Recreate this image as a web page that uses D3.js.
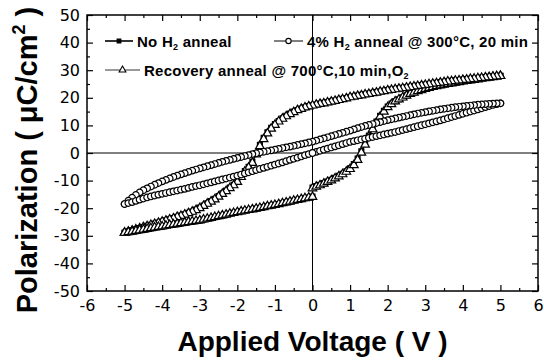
<!DOCTYPE html>
<html lang="en">
<head>
  <meta charset="UTF-8">
  <title>Polarization vs Applied Voltage</title>
  <script src="https://d3js.org/d3.v7.min.js"></script>
  <style>
    body { margin: 0; padding: 0; background: #fff; }
    svg { display: block; font-family: "Liberation Sans", Arial, sans-serif; }
  </style>
</head>
<body>
  <div id="chart"></div>
  <script>
    // voltage sweep: 0 -> +5, +5 -> -5, -5 -> 0 (0.1 V steps)
    const vRise = [0,0.1,0.2,0.3,0.4,0.5,0.6,0.7,0.8,0.9,1,1.1,1.2,1.3,1.4,1.5,1.6,1.7,1.8,1.9,2,2.1,2.2,2.3,2.4,2.5,
                   2.6,2.7,2.8,2.9,3,3.1,3.2,3.3,3.4,3.5,3.6,3.7,3.8,3.9,4,4.1,4.2,4.3,4.4,4.5,4.6,4.7,4.8,4.9,5];
    const vFall = [5,4.9,4.8,4.7,4.6,4.5,4.4,4.3,4.2,4.1,4,3.9,3.8,3.7,3.6,3.5,3.4,3.3,3.2,3.1,3,2.9,2.8,2.7,2.6,2.5,
                   2.4,2.3,2.2,2.1,2,1.9,1.8,1.7,1.6,1.5,1.4,1.3,1.2,1.1,1,0.9,0.8,0.7,0.6,0.5,0.4,0.3,0.2,0.1,0,
                   -0.1,-0.2,-0.3,-0.4,-0.5,-0.6,-0.7,-0.8,-0.9,-1,-1.1,-1.2,-1.3,-1.4,-1.5,-1.6,-1.7,-1.8,-1.9,-2,
                   -2.1,-2.2,-2.3,-2.4,-2.5,-2.6,-2.7,-2.8,-2.9,-3,-3.1,-3.2,-3.3,-3.4,-3.5,-3.6,-3.7,-3.8,-3.9,-4,
                   -4.1,-4.2,-4.3,-4.4,-4.5,-4.6,-4.7,-4.8,-4.9,-5];
    const vBack = [-5,-4.9,-4.8,-4.7,-4.6,-4.5,-4.4,-4.3,-4.2,-4.1,-4,-3.9,-3.8,-3.7,-3.6,-3.5,-3.4,-3.3,-3.2,-3.1,-3,
                   -2.9,-2.8,-2.7,-2.6,-2.5,-2.4,-2.3,-2.2,-2.1,-2,-1.9,-1.8,-1.7,-1.6,-1.5,-1.4,-1.3,-1.2,-1.1,-1,
                   -0.9,-0.8,-0.7,-0.6,-0.5,-0.4,-0.3,-0.2,-0.1,0];

    // No H2 anneal
    const noH2Rise = [-12.5,-12.0,-11.5,-10.9,-10.3,-9.7,-9.0,-8.3,-7.5,-6.6,-5.5,-4.0,-2.0,0.6,3.5,6.3,9.0,11.4,13.5,15.3,
                      16.8,17.9,18.8,19.5,20.2,20.9,21.5,22.0,22.5,22.9,23.3,23.7,24.0,24.3,24.6,24.8,25.0,25.3,25.5,25.8,
                      26.0,26.2,26.4,26.6,26.8,27.0,27.2,27.4,27.6,27.8,28.0];
    const noH2Fall = [28.0,27.9,27.8,27.65,27.5,27.35,27.2,27.05,26.9,26.75,26.6,26.45,26.3,26.15,26.0,25.8,25.6,25.4,25.2,25.0,
                      24.8,24.6,24.4,24.2,24.0,23.8,23.6,23.4,23.2,23.0,22.8,22.55,22.3,22.05,21.8,21.55,21.3,21.05,20.8,20.55,
                      20.3,19.95,19.6,19.3,19.0,18.7,18.4,18.15,17.9,17.6,17.3,17.0,16.6,16.1,15.6,15.0,14.3,13.5,12.6,11.6,
                      10.5,9.1,7.5,5.5,3.0,0.0,-3.2,-5.0,-6.5,-8.5,-10.3,-11.5,-12.5,-13.6,-14.6,-15.6,-16.6,-17.4,-18.2,-19.0,
                      -19.8,-20.5,-21.2,-21.7,-22.2,-22.65,-23.1,-23.55,-24.0,-24.4,-24.8,-25.2,-25.6,-26.0,-26.4,-26.8,-27.2,-27.6,-28.0,-28.4,
                      -28.8];
    const noH2Back = [-29.0,-28.8,-28.6,-28.35,-28.1,-27.85,-27.6,-27.35,-27.1,-26.9,-26.7,-26.45,-26.2,-26.0,-25.8,-25.55,-25.3,-25.1,-24.9,-24.7,
                      -24.5,-24.2,-23.9,-23.6,-23.3,-23.0,-22.7,-22.35,-22.0,-21.7,-21.4,-21.15,-20.9,-20.65,-20.4,-20.15,-19.9,-19.6,-19.3,-19.05,
                      -18.8,-18.5,-18.2,-17.9,-17.6,-17.3,-17.0,-16.7,-16.4,-16.1,-15.8];

    // 4% H2 anneal @ 300C, 20 min
    const h2Rise = [0.0,0.4,0.8,1.2,1.6,2.0,2.4,2.8,3.2,3.6,4.0,4.3,4.6,4.9,5.2,5.5,5.8,6.1,6.4,6.7,
                    7.0,7.3,7.6,7.95,8.3,8.65,9.0,9.35,9.7,10.05,10.4,10.75,11.1,11.45,11.8,12.2,12.6,13.0,13.4,13.8,
                    14.2,14.6,15.0,15.4,15.8,16.2,16.6,17.0,17.4,17.7,18.0];
    const h2Fall = [18.0,17.95,17.9,17.8,17.7,17.6,17.5,17.35,17.2,17.05,16.9,16.75,16.6,16.4,16.2,16.0,15.8,15.55,15.3,15.05,
                    14.8,14.55,14.3,14.0,13.7,13.4,13.1,12.8,12.5,12.2,11.9,11.55,11.2,10.85,10.5,10.15,9.8,9.4,9.0,8.55,
                    8.1,7.7,7.3,6.9,6.5,6.1,5.7,5.3,4.9,4.5,4.1,3.8,3.5,3.2,2.9,2.6,2.3,2.05,1.8,1.5,
                    1.2,0.95,0.7,0.45,0.2,-0.1,-0.4,-0.75,-1.1,-1.45,-1.8,-2.15,-2.5,-2.85,-3.2,-3.6,-4.0,-4.4,-4.8,-5.2,
                    -5.6,-6.0,-6.4,-6.85,-7.3,-7.75,-8.2,-8.7,-9.2,-9.75,-10.3,-10.9,-11.5,-12.15,-12.8,-13.5,-14.3,-15.2,-16.2,-17.3,
                    -18.5];
    const h2Back = [-18.5,-18.15,-17.8,-17.35,-16.9,-16.5,-16.1,-15.75,-15.4,-15.1,-14.8,-14.5,-14.2,-13.9,-13.6,-13.3,-13.0,-12.65,-12.3,-12.0,
                    -11.7,-11.35,-11.0,-10.65,-10.3,-9.95,-9.6,-9.25,-8.9,-8.55,-8.2,-7.8,-7.4,-7.0,-6.6,-6.2,-5.8,-5.4,-5.0,-4.6,
                    -4.2,-3.8,-3.4,-2.95,-2.5,-2.1,-1.7,-1.25,-0.8,-0.4,0.0];

    // Recovery anneal @ 700C, 10 min, O2
    const recRise = [-12.8,-12.2,-11.7,-11.1,-10.5,-9.9,-9.2,-8.5,-7.7,-6.8,-5.8,-4.4,-2.5,0.1,3.0,5.8,8.6,11.0,13.2,15.0,
                     16.6,17.7,18.7,19.4,20.1,20.8,21.4,21.9,22.4,22.8,23.2,23.6,23.9,24.2,24.5,24.8,25.0,25.2,25.5,25.7,
                     25.9,26.1,26.3,26.5,26.7,26.9,27.1,27.3,27.5,27.7,27.9];
    const recFall = [27.9,27.8,27.7,27.5,27.4,27.2,27.1,26.9,26.8,26.6,26.5,26.3,26.2,26.0,25.9,25.7,25.5,25.3,25.1,24.9,
                     24.7,24.5,24.3,24.1,23.9,23.7,23.5,23.3,23.1,22.9,22.7,22.4,22.2,21.9,21.7,21.4,21.2,20.9,20.7,20.4,
                     20.2,19.8,19.5,19.2,18.9,18.6,18.3,18.0,17.8,17.5,17.2,16.9,16.5,16.0,15.5,14.8,14.1,13.3,12.4,11.4,
                     10.2,8.8,7.1,5.0,2.5,-0.5,-3.6,-5.3,-6.8,-8.7,-10.5,-11.7,-12.7,-13.8,-14.8,-15.8,-16.8,-17.6,-18.4,-19.2,
                     -20.0,-20.7,-21.3,-21.8,-22.3,-22.8,-23.2,-23.7,-24.1,-24.5,-24.9,-25.3,-25.7,-26.1,-26.5,-26.9,-27.3,-27.7,-28.1,-28.5,
                     -28.9];
    const recBack = [-28.9,-28.7,-28.5,-28.25,-28.0,-27.75,-27.5,-27.25,-27.0,-26.8,-26.6,-26.35,-26.1,-25.9,-25.7,-25.45,-25.2,-25.0,-24.8,-24.6,
                     -24.4,-24.1,-23.8,-23.5,-23.2,-22.9,-22.6,-22.3,-22.0,-21.7,-21.4,-21.15,-20.9,-20.65,-20.4,-20.15,-19.9,-19.6,-19.3,-19.05,
                     -18.8,-18.5,-18.2,-17.9,-17.6,-17.3,-17.0,-16.7,-16.4,-16.15,-15.9];

    const xTicks = [-6,-5,-4,-3,-2,-1,0,1,2,3,4,5,6];
    const yTicks = [-50,-40,-30,-20,-10,0,10,20,30,40,50];
    const xMinor = [-5.5,-4.5,-3.5,-2.5,-1.5,-0.5,0.5,1.5,2.5,3.5,4.5,5.5];
    const yMinor = [-45,-35,-25,-15,-5,5,15,25,35,45];

    function loop(rise, fall, back) {
      return vRise.map((v, i) => [v, rise[i]])
        .concat(vFall.map((v, i) => [v, fall[i]]))
        .concat(vBack.map((v, i) => [v, back[i]]));
    }

    const series = [
      { data: loop(noH2Rise, noH2Fall, noH2Back), symbol: d3.symbolSquare,   size: 24, fill: "#000" },
      { data: loop(recRise, recFall, recBack),    symbol: d3.symbolTriangle, size: 32, fill: "#fff" },
      { data: loop(h2Rise, h2Fall, h2Back),       symbol: d3.symbolCircle,   size: 34, fill: "#fff" }
    ];

    const W = 544, H = 360;
    const margin = { top: 15, right: 6, bottom: 69, left: 87 };

    const svg = d3.select("#chart").append("svg")
      .attr("width", W).attr("height", H);

    const x = d3.scaleLinear().domain([-6, 6]).range([margin.left, W - margin.right]);
    const y = d3.scaleLinear().domain([-50, 50]).range([H - margin.bottom, margin.top]);

    // zero lines
    svg.append("line")
      .attr("x1", x(-6)).attr("x2", x(6)).attr("y1", y(0)).attr("y2", y(0))
      .attr("stroke", "#000").attr("stroke-width", 1);
    svg.append("line")
      .attr("x1", x(0)).attr("x2", x(0)).attr("y1", y(50)).attr("y2", y(-50))
      .attr("stroke", "#000").attr("stroke-width", 1);

    function styleAxis(g) {
      g.select(".domain").remove();
      g.selectAll("line").attr("stroke", "#000").attr("stroke-width", 1.2);
      g.selectAll("text").attr("font-size", 16).attr("fill", "#000")
        .attr("font-family", "'DejaVu Sans', sans-serif");
    }
    const fmt = d => String(d);

    // ticks point inward on all four sides
    svg.append("g").attr("transform", `translate(0,${y(-50)})`)
      .call(d3.axisBottom(x).tickValues(xTicks).tickSizeInner(-6).tickSizeOuter(0).tickPadding(9).tickFormat(fmt))
      .call(styleAxis);
    svg.append("g").attr("transform", `translate(0,${y(-50)})`)
      .call(d3.axisBottom(x).tickValues(xMinor).tickSize(-3).tickFormat(""))
      .call(styleAxis);
    svg.append("g").attr("transform", `translate(0,${y(50)})`)
      .call(d3.axisTop(x).tickValues(xTicks).tickSize(-6).tickFormat(""))
      .call(styleAxis);
    svg.append("g").attr("transform", `translate(0,${y(50)})`)
      .call(d3.axisTop(x).tickValues(xMinor).tickSize(-3).tickFormat(""))
      .call(styleAxis);

    svg.append("g").attr("transform", `translate(${x(-6)},0)`)
      .call(d3.axisLeft(y).tickValues(yTicks).tickSizeInner(-6).tickSizeOuter(0).tickPadding(7).tickFormat(fmt))
      .call(styleAxis);
    svg.append("g").attr("transform", `translate(${x(-6)},0)`)
      .call(d3.axisLeft(y).tickValues(yMinor).tickSize(-3).tickFormat(""))
      .call(styleAxis);
    svg.append("g").attr("transform", `translate(${x(6)},0)`)
      .call(d3.axisRight(y).tickValues(yTicks).tickSize(-6).tickFormat(""))
      .call(styleAxis);
    svg.append("g").attr("transform", `translate(${x(6)},0)`)
      .call(d3.axisRight(y).tickValues(yMinor).tickSize(-3).tickFormat(""))
      .call(styleAxis);

    // frame
    svg.append("rect")
      .attr("x", x(-6)).attr("y", y(50))
      .attr("width", x(6) - x(-6)).attr("height", y(-50) - y(50))
      .attr("fill", "none").attr("stroke", "#000").attr("stroke-width", 1.5);

    // loops
    const line = d3.line().x(d => x(d[0])).y(d => y(d[1]));
    series.forEach(s => {
      svg.append("path").datum(s.data)
        .attr("d", line).attr("fill", "none").attr("stroke", "#000").attr("stroke-width", 1);
      svg.append("g").selectAll("path")
        .data(s.data)
        .join("path")
        .attr("transform", d => `translate(${x(d[0])},${y(d[1])})`)
        .attr("d", d3.symbol().type(s.symbol).size(s.size))
        .attr("fill", s.fill)
        .attr("stroke", "#000")
        .attr("stroke-width", 1.2);
    });

    // legend
    const legend = [
      { s: series[0], lx: 105, ly: 41, tx: 137, text: "No H", sub: "2", rest: " anneal", lw: 1.6, ms: 14 },
      { s: series[2], lx: 274, ly: 41, tx: 307, text: "4% H", sub: "2", rest: " anneal @ 300°C, 20 min", lw: 1, ms: 22 },
      { s: series[1], lx: 105, ly: 70, tx: 144, text: "Recovery anneal @ 700°C,10 min,O", sub: "2", rest: "", lw: 0.8, ms: 20 }
    ];
    legend.forEach(l => {
      const g = svg.append("g");
      g.append("line").attr("x1", l.lx).attr("x2", l.tx - 4).attr("y1", l.ly).attr("y2", l.ly)
        .attr("stroke", "#000").attr("stroke-width", l.lw);
      g.append("path").attr("transform", `translate(${(l.lx + l.tx - 4) / 2},${l.ly})`)
        .attr("d", d3.symbol().type(l.s.symbol).size(l.ms))
        .attr("fill", l.s.fill).attr("stroke", "#000").attr("stroke-width", 1.1);
      const t = g.append("text").attr("x", l.tx).attr("y", l.ly + 5.5)
        .attr("font-size", 15).attr("font-weight", "bold").attr("letter-spacing", 0.25);
      t.append("tspan").text(l.text);
      t.append("tspan").attr("font-size", 9).attr("dy", 3).text(l.sub);
      t.append("tspan").attr("dy", -3).text(l.rest);
    });

    // axis titles
    svg.append("text")
      .attr("x", x(0)).attr("y", 351)
      .attr("text-anchor", "middle").attr("font-size", 28).attr("font-weight", "bold")
      .text("Applied Voltage ( V )");

    const yt = svg.append("text")
      .attr("transform", "translate(37,160) rotate(-90)")
      .attr("text-anchor", "middle").attr("font-size", 29).attr("font-weight", "bold");
    yt.append("tspan").text("Polarization ( μC/cm");
    yt.append("tspan").attr("font-size", 18).attr("dy", -12).text("2");
    yt.append("tspan").attr("dy", 12).text(" )");
  </script>
</body>
</html>
